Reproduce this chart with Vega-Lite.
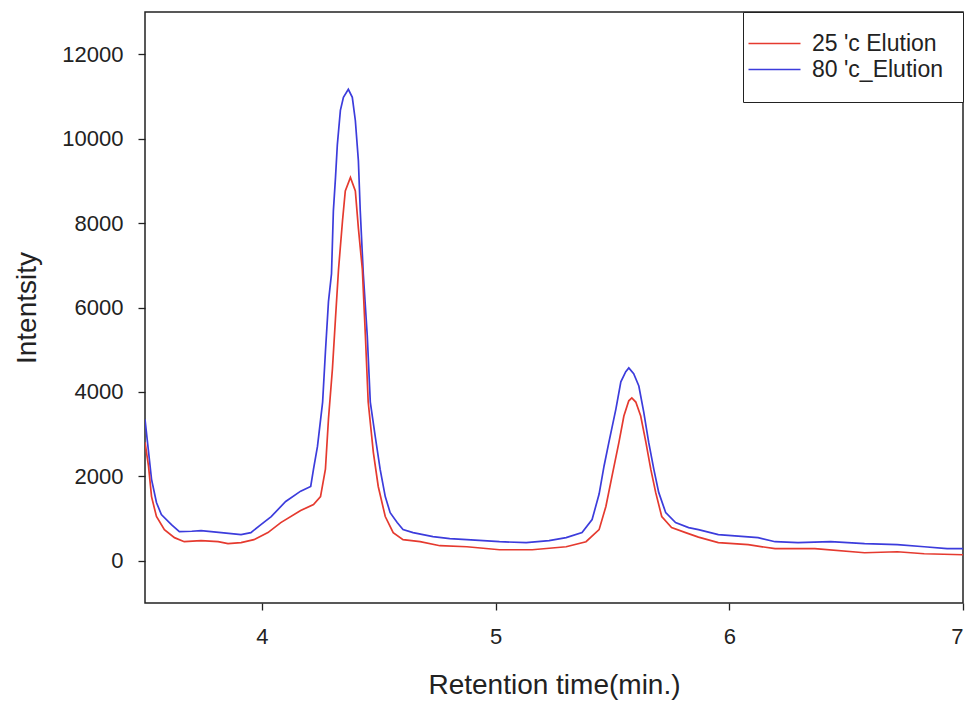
{
  "$schema": "https://vega.github.io/schema/vega-lite/v6.json",
  "width": 818,
  "height": 591,
  "autosize": "none",
  "padding": {"left": 145, "top": 12, "right": 2, "bottom": 98},
  "background": "white",
  "config": {
    "font": "Liberation Sans",
    "view": {"stroke": "#222", "strokeWidth": 1.5},
    "axis": {
      "grid": false,
      "domain": false,
      "tickColor": "#222",
      "tickSize": 7,
      "tickWidth": 1.3,
      "labelColor": "#222",
      "labelFontSize": 22,
      "labelFont": "Liberation Sans",
      "titleColor": "#222",
      "titleFontSize": 28,
      "titleFont": "Liberation Sans",
      "titleFontWeight": "normal"
    },
    "legend": {
      "labelFont": "Liberation Sans",
      "labelFontSize": 23,
      "labelColor": "#222"
    }
  },
  "data": {
    "values": [
      {"t": 3.5, "v": 3350, "s": "80 'c_Elution"},
      {"t": 3.528, "v": 1930, "s": "80 'c_Elution"},
      {"t": 3.549, "v": 1380, "s": "80 'c_Elution"},
      {"t": 3.57, "v": 1095, "s": "80 'c_Elution"},
      {"t": 3.613, "v": 857, "s": "80 'c_Elution"},
      {"t": 3.647, "v": 690, "s": "80 'c_Elution"},
      {"t": 3.7, "v": 700, "s": "80 'c_Elution"},
      {"t": 3.74, "v": 714, "s": "80 'c_Elution"},
      {"t": 3.826, "v": 667, "s": "80 'c_Elution"},
      {"t": 3.911, "v": 619, "s": "80 'c_Elution"},
      {"t": 3.953, "v": 667, "s": "80 'c_Elution"},
      {"t": 3.996, "v": 857, "s": "80 'c_Elution"},
      {"t": 4.04, "v": 1048, "s": "80 'c_Elution"},
      {"t": 4.102, "v": 1405, "s": "80 'c_Elution"},
      {"t": 4.166, "v": 1650, "s": "80 'c_Elution"},
      {"t": 4.209, "v": 1760, "s": "80 'c_Elution"},
      {"t": 4.221, "v": 2170, "s": "80 'c_Elution"},
      {"t": 4.238, "v": 2710, "s": "80 'c_Elution"},
      {"t": 4.26, "v": 3760, "s": "80 'c_Elution"},
      {"t": 4.272, "v": 4950, "s": "80 'c_Elution"},
      {"t": 4.285, "v": 6140, "s": "80 'c_Elution"},
      {"t": 4.298, "v": 6800, "s": "80 'c_Elution"},
      {"t": 4.306, "v": 8290, "s": "80 'c_Elution"},
      {"t": 4.315, "v": 9070, "s": "80 'c_Elution"},
      {"t": 4.323, "v": 9860, "s": "80 'c_Elution"},
      {"t": 4.336, "v": 10670, "s": "80 'c_Elution"},
      {"t": 4.349, "v": 10980, "s": "80 'c_Elution"},
      {"t": 4.37, "v": 11170, "s": "80 'c_Elution"},
      {"t": 4.387, "v": 10980, "s": "80 'c_Elution"},
      {"t": 4.4, "v": 10430, "s": "80 'c_Elution"},
      {"t": 4.413, "v": 9480, "s": "80 'c_Elution"},
      {"t": 4.421, "v": 8290, "s": "80 'c_Elution"},
      {"t": 4.434, "v": 6800, "s": "80 'c_Elution"},
      {"t": 4.451, "v": 5330, "s": "80 'c_Elution"},
      {"t": 4.464, "v": 3760, "s": "80 'c_Elution"},
      {"t": 4.485, "v": 2950, "s": "80 'c_Elution"},
      {"t": 4.506, "v": 2170, "s": "80 'c_Elution"},
      {"t": 4.528, "v": 1520, "s": "80 'c_Elution"},
      {"t": 4.549, "v": 1140, "s": "80 'c_Elution"},
      {"t": 4.579, "v": 905, "s": "80 'c_Elution"},
      {"t": 4.604, "v": 738, "s": "80 'c_Elution"},
      {"t": 4.647, "v": 667, "s": "80 'c_Elution"},
      {"t": 4.732, "v": 571, "s": "80 'c_Elution"},
      {"t": 4.804, "v": 524, "s": "80 'c_Elution"},
      {"t": 4.877, "v": 500, "s": "80 'c_Elution"},
      {"t": 5.017, "v": 452, "s": "80 'c_Elution"},
      {"t": 5.131, "v": 429, "s": "80 'c_Elution"},
      {"t": 5.229, "v": 476, "s": "80 'c_Elution"},
      {"t": 5.302, "v": 548, "s": "80 'c_Elution"},
      {"t": 5.37, "v": 667, "s": "80 'c_Elution"},
      {"t": 5.413, "v": 976, "s": "80 'c_Elution"},
      {"t": 5.443, "v": 1580, "s": "80 'c_Elution"},
      {"t": 5.464, "v": 2240, "s": "80 'c_Elution"},
      {"t": 5.485, "v": 2810, "s": "80 'c_Elution"},
      {"t": 5.515, "v": 3600, "s": "80 'c_Elution"},
      {"t": 5.536, "v": 4240, "s": "80 'c_Elution"},
      {"t": 5.557, "v": 4480, "s": "80 'c_Elution"},
      {"t": 5.57, "v": 4570, "s": "80 'c_Elution"},
      {"t": 5.591, "v": 4430, "s": "80 'c_Elution"},
      {"t": 5.613, "v": 4140, "s": "80 'c_Elution"},
      {"t": 5.634, "v": 3520, "s": "80 'c_Elution"},
      {"t": 5.655, "v": 2810, "s": "80 'c_Elution"},
      {"t": 5.677, "v": 2170, "s": "80 'c_Elution"},
      {"t": 5.698, "v": 1620, "s": "80 'c_Elution"},
      {"t": 5.728, "v": 1140, "s": "80 'c_Elution"},
      {"t": 5.77, "v": 905, "s": "80 'c_Elution"},
      {"t": 5.826, "v": 786, "s": "80 'c_Elution"},
      {"t": 5.868, "v": 738, "s": "80 'c_Elution"},
      {"t": 5.953, "v": 619, "s": "80 'c_Elution"},
      {"t": 6.123, "v": 548, "s": "80 'c_Elution"},
      {"t": 6.196, "v": 452, "s": "80 'c_Elution"},
      {"t": 6.294, "v": 429, "s": "80 'c_Elution"},
      {"t": 6.434, "v": 452, "s": "80 'c_Elution"},
      {"t": 6.579, "v": 405, "s": "80 'c_Elution"},
      {"t": 6.719, "v": 381, "s": "80 'c_Elution"},
      {"t": 6.834, "v": 333, "s": "80 'c_Elution"},
      {"t": 6.932, "v": 286, "s": "80 'c_Elution"},
      {"t": 7.0, "v": 286, "s": "80 'c_Elution"},

      {"t": 3.5, "v": 2810, "s": "25 'c Elution"},
      {"t": 3.515, "v": 2240, "s": "25 'c Elution"},
      {"t": 3.528, "v": 1520, "s": "25 'c Elution"},
      {"t": 3.549, "v": 1048, "s": "25 'c Elution"},
      {"t": 3.583, "v": 738, "s": "25 'c Elution"},
      {"t": 3.626, "v": 548, "s": "25 'c Elution"},
      {"t": 3.668, "v": 452, "s": "25 'c Elution"},
      {"t": 3.74, "v": 476, "s": "25 'c Elution"},
      {"t": 3.813, "v": 452, "s": "25 'c Elution"},
      {"t": 3.855, "v": 405, "s": "25 'c Elution"},
      {"t": 3.911, "v": 429, "s": "25 'c Elution"},
      {"t": 3.966, "v": 500, "s": "25 'c Elution"},
      {"t": 4.026, "v": 667, "s": "25 'c Elution"},
      {"t": 4.081, "v": 905, "s": "25 'c Elution"},
      {"t": 4.166, "v": 1190, "s": "25 'c Elution"},
      {"t": 4.221, "v": 1333, "s": "25 'c Elution"},
      {"t": 4.251, "v": 1520, "s": "25 'c Elution"},
      {"t": 4.272, "v": 2170, "s": "25 'c Elution"},
      {"t": 4.285, "v": 3360, "s": "25 'c Elution"},
      {"t": 4.302, "v": 4550, "s": "25 'c Elution"},
      {"t": 4.315, "v": 5740, "s": "25 'c Elution"},
      {"t": 4.328, "v": 6900, "s": "25 'c Elution"},
      {"t": 4.345, "v": 8050, "s": "25 'c Elution"},
      {"t": 4.357, "v": 8760, "s": "25 'c Elution"},
      {"t": 4.379, "v": 9080, "s": "25 'c Elution"},
      {"t": 4.4, "v": 8760, "s": "25 'c Elution"},
      {"t": 4.413, "v": 7880, "s": "25 'c Elution"},
      {"t": 4.43, "v": 6900, "s": "25 'c Elution"},
      {"t": 4.443, "v": 5330, "s": "25 'c Elution"},
      {"t": 4.455, "v": 3760, "s": "25 'c Elution"},
      {"t": 4.477, "v": 2570, "s": "25 'c Elution"},
      {"t": 4.498, "v": 1760, "s": "25 'c Elution"},
      {"t": 4.528, "v": 1048, "s": "25 'c Elution"},
      {"t": 4.562, "v": 667, "s": "25 'c Elution"},
      {"t": 4.604, "v": 500, "s": "25 'c Elution"},
      {"t": 4.677, "v": 452, "s": "25 'c Elution"},
      {"t": 4.762, "v": 357, "s": "25 'c Elution"},
      {"t": 4.877, "v": 333, "s": "25 'c Elution"},
      {"t": 5.017, "v": 262, "s": "25 'c Elution"},
      {"t": 5.157, "v": 262, "s": "25 'c Elution"},
      {"t": 5.302, "v": 333, "s": "25 'c Elution"},
      {"t": 5.387, "v": 452, "s": "25 'c Elution"},
      {"t": 5.443, "v": 738, "s": "25 'c Elution"},
      {"t": 5.472, "v": 1286, "s": "25 'c Elution"},
      {"t": 5.498, "v": 2000, "s": "25 'c Elution"},
      {"t": 5.528, "v": 2810, "s": "25 'c Elution"},
      {"t": 5.549, "v": 3430, "s": "25 'c Elution"},
      {"t": 5.57, "v": 3790, "s": "25 'c Elution"},
      {"t": 5.583, "v": 3860, "s": "25 'c Elution"},
      {"t": 5.6, "v": 3760, "s": "25 'c Elution"},
      {"t": 5.621, "v": 3430, "s": "25 'c Elution"},
      {"t": 5.643, "v": 2810, "s": "25 'c Elution"},
      {"t": 5.664, "v": 2170, "s": "25 'c Elution"},
      {"t": 5.685, "v": 1620, "s": "25 'c Elution"},
      {"t": 5.711, "v": 1048, "s": "25 'c Elution"},
      {"t": 5.753, "v": 786, "s": "25 'c Elution"},
      {"t": 5.813, "v": 667, "s": "25 'c Elution"},
      {"t": 5.868, "v": 560, "s": "25 'c Elution"},
      {"t": 5.953, "v": 429, "s": "25 'c Elution"},
      {"t": 6.081, "v": 381, "s": "25 'c Elution"},
      {"t": 6.196, "v": 286, "s": "25 'c Elution"},
      {"t": 6.366, "v": 286, "s": "25 'c Elution"},
      {"t": 6.579, "v": 190, "s": "25 'c Elution"},
      {"t": 6.719, "v": 214, "s": "25 'c Elution"},
      {"t": 6.834, "v": 167, "s": "25 'c Elution"},
      {"t": 7.0, "v": 143, "s": "25 'c Elution"}
    ]
  },
  "mark": {"type": "line", "strokeWidth": 1.7, "clip": true},
  "encoding": {
    "x": {
      "field": "t",
      "type": "quantitative",
      "scale": {"domain": [3.5, 7], "nice": false, "zero": false},
      "axis": {
        "title": "Retention time(min.)",
        "values": [4, 5, 6, 7],
        "labelPadding": 16,
        "titlePadding": 24
      }
    },
    "y": {
      "field": "v",
      "type": "quantitative",
      "scale": {"domain": [-1000, 13000], "nice": false, "zero": false},
      "axis": {
        "title": "Intentsity",
        "format": "d",
        "values": [0, 2000, 4000, 6000, 8000, 10000, 12000],
        "labelPadding": 15,
        "titlePadding": 20
      }
    },
    "color": {
      "field": "s",
      "type": "nominal",
      "scale": {
        "domain": ["25 'c Elution", "80 'c_Elution"],
        "range": ["#e53a2f", "#3c3cdc"]
      },
      "legend": {
        "title": null,
        "orient": "top-right",
        "offset": 0,
        "symbolType": "M-2.6,0H2.6",
        "symbolSize": 400,
        "symbolStrokeWidth": 1.7,
        "strokeColor": "#222",
        "fillColor": "white",
        "padding": 20,
        "rowPadding": 2,
        "labelOffset": 26
      }
    }
  }
}
